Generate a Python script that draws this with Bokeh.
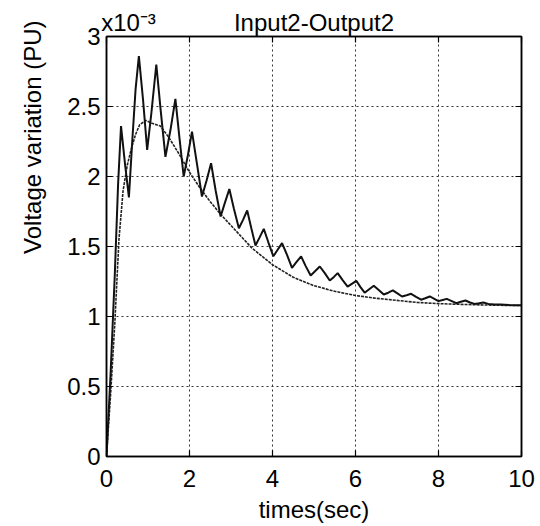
from bokeh.plotting import figure
from bokeh.models import FixedTicker, LinearAxis, Range1d, Title
from bokeh.embed import file_html
from bokeh.resources import INLINE

# ---- data (voltage values in units of 1e-3 PU) ----
t_osc = [0, 0.1, 0.2, 0.28, 0.35, 0.45, 0.54, 0.62, 0.70, 0.78, 0.88, 0.98, 1.08, 1.20,
         1.31, 1.42, 1.54, 1.66, 1.76, 1.86, 1.96, 2.06, 2.18, 2.30, 2.41, 2.52, 2.63,
         2.75, 2.85, 2.96, 3.07, 3.19, 3.29, 3.39, 3.49, 3.59, 3.69, 3.79, 3.90, 4.02,
         4.12, 4.23, 4.35, 4.47, 4.58, 4.69, 4.80, 4.92, 5.03, 5.14, 5.26, 5.38, 5.48,
         5.57, 5.69, 5.81, 5.92, 6.02, 6.12, 6.22, 6.33, 6.44, 6.56, 6.68, 6.79, 6.90,
         7.01, 7.12, 7.23, 7.34, 7.46, 7.58, 7.68, 7.79, 7.90, 8.00, 8.10, 8.20, 8.32,
         8.43, 8.54, 8.65, 8.76, 8.87, 8.98, 9.08, 9.20, 9.35, 9.50, 9.70, 9.85, 10.0]
v_osc = [0, 0.6, 1.3, 1.95, 2.36, 2.08, 1.85, 2.25, 2.62, 2.86, 2.55, 2.19, 2.45, 2.80,
         2.46, 2.14, 2.33, 2.555, 2.27, 2.00, 2.15, 2.32, 2.09, 1.857, 1.97, 2.095, 1.90,
         1.714, 1.81, 1.91, 1.77, 1.63, 1.69, 1.757, 1.63, 1.507, 1.565, 1.626, 1.53, 1.43,
         1.475, 1.524, 1.44, 1.348, 1.39, 1.43, 1.36, 1.293, 1.325, 1.357, 1.31, 1.257, 1.283,
         1.31, 1.26, 1.214, 1.235, 1.255, 1.21, 1.17, 1.195, 1.22, 1.19, 1.157, 1.17, 1.186,
         1.165, 1.143, 1.152, 1.162, 1.14, 1.12, 1.13, 1.143, 1.126, 1.11, 1.118, 1.126, 1.11,
         1.095, 1.105, 1.114, 1.10, 1.09, 1.095, 1.10, 1.09, 1.085, 1.085, 1.082, 1.08, 1.08]

t_smooth = [0, 0.1, 0.2, 0.3, 0.4, 0.5, 0.6, 0.7, 0.8, 0.95, 1.1, 1.3, 1.5, 1.75, 2.0,
            2.25, 2.5, 2.75, 3.0, 3.25, 3.5, 3.75, 4.0, 4.5, 5.0, 5.5, 6.0, 6.5, 7.0,
            7.5, 8.0, 8.5, 9.0, 9.5, 10.0]
v_smooth = [0, 0.45, 0.95, 1.55, 1.9, 2.08, 2.2, 2.3, 2.37, 2.4, 2.38, 2.36, 2.28, 2.16, 2.03,
            1.92, 1.82, 1.73, 1.65, 1.57, 1.49, 1.43, 1.37, 1.28, 1.22, 1.18, 1.15, 1.13, 1.115,
            1.10, 1.092, 1.087, 1.083, 1.08, 1.078]

x_ticks = [0, 2, 4, 6, 8, 10]
y_ticks = [0, 0.5, 1, 1.5, 2, 2.5, 3]
y_tick_labels = ["0", "0.5", "1", "1.5", "2", "2.5", "3"]

title_text = "Input2-Output2"
exponent_text = "x10\u207b\u00b3"
x_label = "times(sec)"
y_label = "Voltage variation (PU)"

FONT = "Liberation Sans"

p = figure(width=540, height=526, output_backend="svg", toolbar_location=None,
           x_range=Range1d(0, 10), y_range=Range1d(0, 3),
           min_border_left=106, min_border_right=19, min_border_top=36, min_border_bottom=70)
p.background_fill_color = "white"
p.border_fill_color = "white"
p.outline_line_color = "black"
p.outline_line_width = 1.5

# bottom / left axes
p.xaxis.ticker = FixedTicker(ticks=x_ticks)
p.yaxis.ticker = FixedTicker(ticks=y_ticks)
p.yaxis.major_label_overrides = {t: s for t, s in zip(y_ticks, y_tick_labels)}
p.xaxis.axis_label = x_label
for ax in (p.xaxis[0], p.yaxis[0]):
    ax.major_label_text_font = FONT
    ax.major_label_text_font_size = "24px"
    ax.major_label_text_color = "black"
    ax.axis_label_text_font = FONT
    ax.axis_label_text_font_size = "24px"
    ax.axis_label_text_font_style = "normal"
    ax.axis_label_text_color = "black"
    ax.major_tick_in = 6
    ax.major_tick_out = 0
    ax.minor_tick_line_color = None
    ax.axis_line_width = 1.5
    ax.major_tick_line_width = 1.2
p.xaxis.major_label_standoff = 13
p.xaxis.axis_label_standoff = 6
p.yaxis.major_label_standoff = 6

# y label: left-side title, anchored near the top as in the reference
ylab = Title(text=y_label, align="right", offset=-16, vertical_align="top",
             standoff=34, text_font=FONT, text_font_size="24px",
             text_font_style="normal", text_color="black")
p.add_layout(ylab, "left")

# top axis: inward tick marks (minor) plus the exponent and title texts
top = LinearAxis(ticker=FixedTicker(ticks=[0.53, 5.0], minor_ticks=x_ticks),
                 major_label_overrides={0.53: exponent_text, 5.0: title_text},
                 major_label_text_font=FONT, major_label_text_font_size="24px",
                 major_label_text_color="black", major_label_standoff=1,
                 major_tick_line_color=None, major_tick_in=0, major_tick_out=0,
                 minor_tick_in=6, minor_tick_out=0, minor_tick_line_width=1.2,
                 minor_tick_line_color="black", axis_line_width=1.5)
p.add_layout(top, "above")

# right axis: inward tick marks only
right = LinearAxis(ticker=FixedTicker(ticks=y_ticks), major_label_text_font_size="0px",
                   major_label_text_color=None, major_label_standoff=0,
                   major_tick_in=6, major_tick_out=0, minor_tick_line_color=None,
                   axis_line_width=1.5, major_tick_line_width=1.2)
p.add_layout(right, "right")

# grid
p.xgrid.ticker = FixedTicker(ticks=x_ticks)
p.ygrid.ticker = FixedTicker(ticks=y_ticks)
for g in (p.xgrid[0], p.ygrid[0]):
    g.grid_line_color = "#333333"
    g.grid_line_dash = "2 3"
    g.grid_line_width = 1

# curves
p.line(t_smooth, v_smooth, line_color="#222222", line_width=1.6, line_dash="3 1")
p.line(t_osc, v_osc, line_color="#111111", line_width=2)

open("out.html", "w").write(file_html(p, INLINE))
